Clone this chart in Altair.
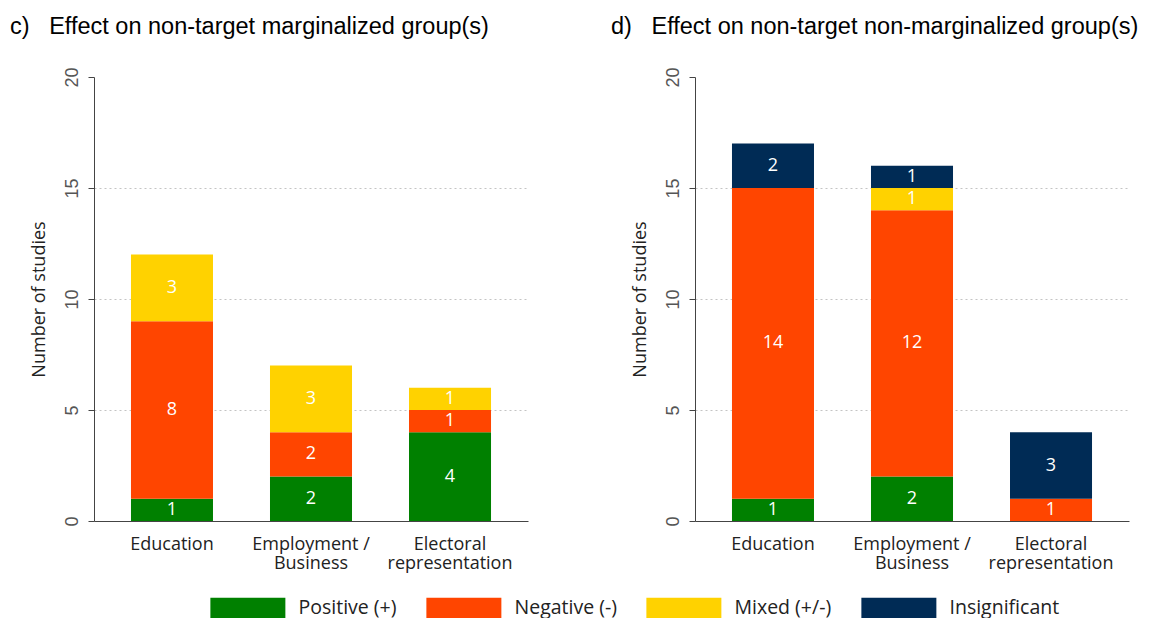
import altair as alt
import pandas as pd

categories = ["Education", "Employment / Business", "Electoral representation"]
effects = ["Positive (+)", "Negative (-)", "Mixed (+/-)", "Insignificant"]
colors = ["#008000", "#FF4500", "#FFD200", "#002B55"]

# Panel c) Effect on non-target marginalized group(s)
c_positive = [1, 2, 4]
c_negative = [8, 2, 1]
c_mixed = [3, 3, 1]
c_insignificant = [0, 0, 0]

# Panel d) Effect on non-target non-marginalized group(s)
d_positive = [1, 2, 0]
d_negative = [14, 12, 1]
d_mixed = [0, 1, 0]
d_insignificant = [2, 1, 3]

y_ticks = [0, 5, 10, 15, 20]

panels = {
    "c": [c_positive, c_negative, c_mixed, c_insignificant],
    "d": [d_positive, d_negative, d_mixed, d_insignificant],
}
titles = {
    "c": "c)\u00a0\u00a0\u00a0Effect on non-target marginalized group(s)",
    "d": "d)\u00a0\u00a0\u00a0Effect on non-target non-marginalized group(s)",
}

rows = []
for p, series in panels.items():
    for k, (eff, vals) in enumerate(zip(effects, series)):
        for cat, v in zip(categories, vals):
            if v > 0:
                rows.append({"panel": p, "category": cat, "effect": eff, "order": k, "count": v})
df = pd.DataFrame(rows)

SEGOE = "Open Sans"
ARIAL = "Liberation Sans"

label_expr = ("datum.value == 'Employment / Business' ? ['Employment /', 'Business'] : "
              "datum.value == 'Electoral representation' ? ['Electoral', 'representation'] : datum.value")


def panel(p):
    base = alt.Chart(df).transform_filter(alt.datum.panel == p).transform_stack(
        stack="count", groupby=["category"], as_=["y0", "y1"], sort=[alt.SortField("order")]
    ).transform_calculate(mid="(datum.y0 + datum.y1) / 2")

    x = alt.X("category:N", sort=categories, title=None,
              scale=alt.Scale(paddingInner=0.41, paddingOuter=0.266),
              axis=alt.Axis(labelAngle=0, labelExpr=label_expr, ticks=False,
                            domainColor="#444444", labelColor="#222222",
                            labelFont=SEGOE, labelFontSize=18, labelPadding=14,
                            labelLineHeight=19))
    bars = base.mark_bar().encode(
        x=x,
        y=alt.Y("y0:Q", scale=alt.Scale(domain=[0, 20]),
                title="Number of studies",
                axis=alt.Axis(values=y_ticks, labelAngle=270, labelAlign="center",
                              labelBaseline="bottom", labelFont=ARIAL, labelFontSize=18,
                              labelColor="#555555", labelPadding=7, tickSize=6,
                              tickColor="#444444", domainColor="#444444",
                              titleFont=SEGOE, titleFontSize=18, titleFontWeight="normal",
                              titleColor="#222222", titlePadding=15,
                              grid=True, gridDash=[2, 3], gridColor="#c4c4c4",
                              gridOpacity=alt.condition("datum.value == 0 || datum.value == 20",
                                                        alt.value(0), alt.value(1)))),
        y2="y1:Q",
        color=alt.Color("effect:N", scale=alt.Scale(domain=effects, range=colors),
                        title=None),
        order=alt.Order("order:Q"),
    )
    text = base.mark_text(color="white", font=SEGOE, fontSize=18, baseline="middle").encode(
        x=alt.X("category:N", sort=categories),
        y=alt.Y("mid:Q"),
        text=alt.Text("count:Q"),
    )
    return alt.layer(bars, text).properties(
        width=434, height=444,
        title=alt.TitleParams(titles[p], anchor="start", frame="group", font=ARIAL,
                              fontSize=23.5, fontWeight="normal", color="#000000",
                              baseline="alphabetic", dx=-84, offset=9),
    )


chart = alt.hconcat(panel("c"), panel("d"), spacing=83).configure_view(
    stroke=None
).configure_legend(
    orient="none", legendX=116, legendY=521, direction="horizontal",
    symbolType="M-1,-1.07H7V1.07H-1Z", symbolSize=351.5, symbolStrokeWidth=0,
    symbolOpacity=1, labelFont=SEGOE, labelFontSize=19.5, labelColor="#222222",
    labelOffset=69, columnPadding=29, columns=4,
).properties(padding={"left": 2, "top": 7, "right": 2, "bottom": 0})

chart.save("out.html", embed_options={"renderer": "svg", "actions": False})
